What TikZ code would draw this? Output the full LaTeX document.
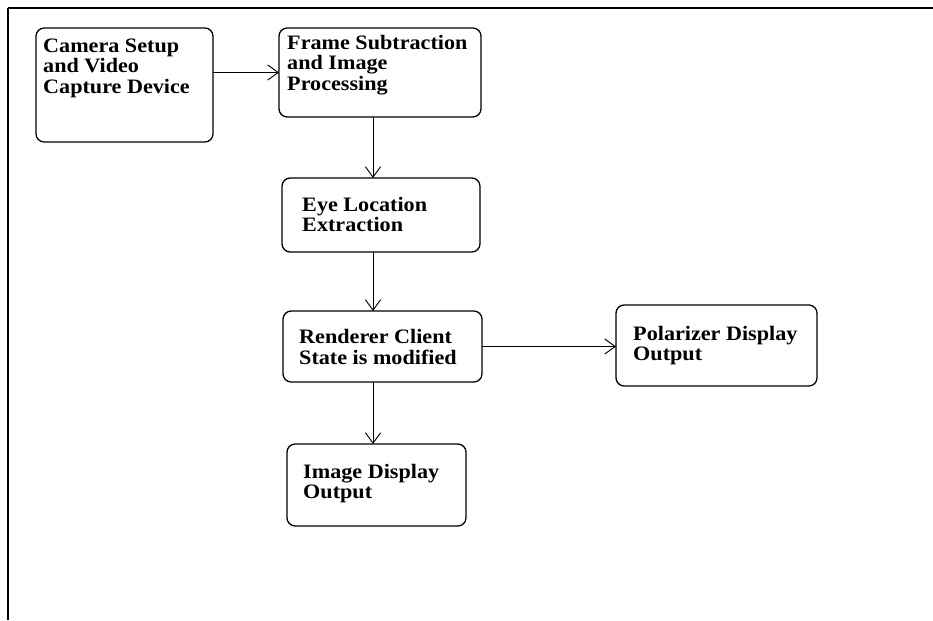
\documentclass[tikz,border=0pt]{standalone}
\usepackage{fontspec}
\newfontfamily\boxfont{Liberation Serif}[FakeStretch=1.08]
\usetikzlibrary{arrows.meta,positioning}

\begin{document}
\begin{tikzpicture}[
  x=0.03cm, y=-0.03cm,
  >={Straight Barb[length=9pt,width=13pt]},
  every node/.style={font=\boxfont\bfseries\fontsize{17.5}{17.5}\selectfont},
  blk/.style={draw, rounded corners=7pt, line width=1.1pt, anchor=north west,
              inner sep=0pt, outer sep=0pt},
  txt/.style={anchor=north west, align=left, inner sep=0pt},
  arr/.style={->, line width=0.8pt}
]
\useasboundingbox (0,0) rectangle (933,620);

%% Frame
\draw[line width=1pt] (8,620) -- (8,8);
\draw[line width=1.7pt] (8,8) -- (933,8);

%% Boxes
\node[blk, minimum width=5.31cm, minimum height=3.42cm] (cam) at (36,28)  {};
\node[blk, minimum width=6.06cm, minimum height=2.67cm] (frm) at (279,28) {};
\node[blk, minimum width=5.94cm, minimum height=2.22cm] (eye) at (282,178) {};
\node[blk, minimum width=5.97cm, minimum height=2.13cm] (ren) at (283,311) {};
\node[blk, minimum width=6.03cm, minimum height=2.43cm] (pol) at (616,305) {};
\node[blk, minimum width=5.37cm, minimum height=2.46cm] (img) at (287,444) {};

%% Texts
\node[txt] (camtxt) at (43,37.6)    {\strut Camera Setup\\and Video\\Capture Device};
\node[txt] (frmtxt) at (287,34.6)   {\strut Frame Subtraction\\and Image\\Processing};
\node[txt] (eyetxt) at (302,196.6)  {\strut Eye Location\\Extraction};
\node[txt] (rentxt) at (299,328.6)  {\strut Renderer Client\\State is modified};
\node[txt] (poltxt) at (633,325.6)  {\strut Polarizer Display\\Output};
\node[txt] (imgtxt) at (303,463.6)  {\strut Image Display\\Output};

%% Arrows
\coordinate (spine) at (373,0);
\draw[arr] (cam.east |- frm.west) -- (frm.west);
\draw[arr] (frm.south -| spine) -- (eye.north -| spine);
\draw[arr] (eye.south -| spine) -- (ren.north -| spine);
\draw[arr] (ren.east) -- (ren.east -| pol.west);
\draw[arr] (ren.south -| spine) -- (img.north -| spine);
\end{tikzpicture}
\end{document}
